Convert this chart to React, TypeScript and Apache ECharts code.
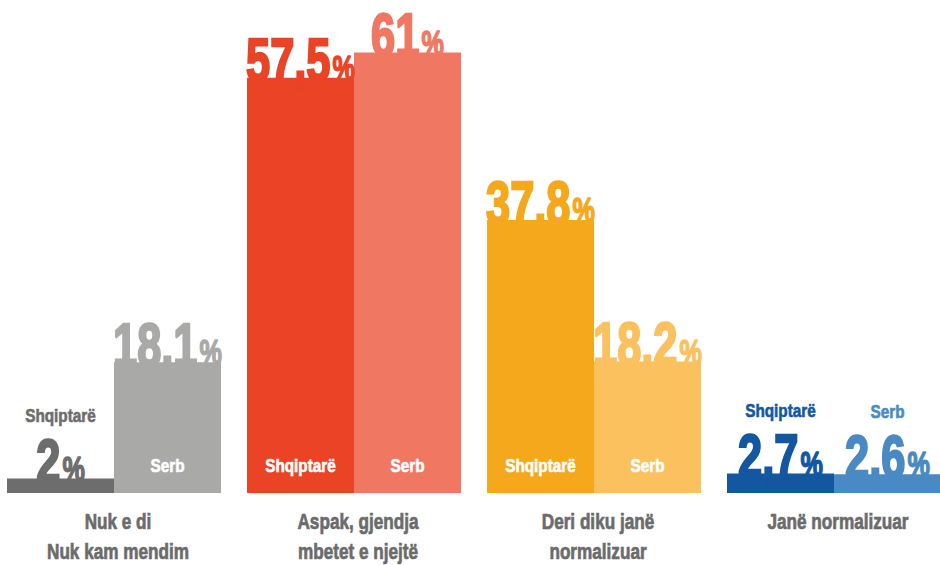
import { useEffect, useRef } from 'react';
import * as echarts from 'echarts';

const categories = ['Nuk e di\nNuk kam mendim', 'Aspak, gjendja\nmbetet e njejtë', 'Deri diku janë\nnormalizuar', 'Janë normalizuar'];
const seriesNames = ['Shqiptarë', 'Serb'];
const albanianValues = [2, 57.5, 37.8, 2.7];
const serbValues = [18.1, 61, 18.2, 2.6];
const albanianColors = ['#6d6d6d', '#ea4325', '#f6a81c', '#1257a0'];
const serbColors = ['#a9a9a8', '#f07862', '#fbc15e', '#4a8ac4'];

const BAR_W = 107;
const FONT = "'Liberation Sans', Arial, sans-serif";

const fmt = (v: number) => String(v).replace('.', ',');

export default function App() {
  const ref = useRef<HTMLDivElement>(null);

  useEffect(() => {
    if (!ref.current) return;
    const chart = echarts.init(ref.current, undefined, { renderer: 'svg' });

    const labelData: number[][] = [];
    albanianValues.forEach((v, i) => labelData.push([i, v, 0]));
    serbValues.forEach((v, i) => labelData.push([i, v, 1]));

    const renderValueLabel = (params: any, api: any) => {
      const ci = api.value(0);
      const v = api.value(1);
      const side = api.value(2);
      const top = api.coord([ci, v]);
      const base = api.coord([ci, 0]);
      const cx = top[0] + (side === 0 ? -BAR_W / 2 : BAR_W / 2);
      const color = side === 0 ? albanianColors[ci] : serbColors[ci];
      const name = seriesNames[side];
      const children: any[] = [
        {
          type: 'text',
          x: cx,
          y: top[1] + 13,
          scaleX: 0.7,
          style: {
            text: `{n|${fmt(v)}}{p|%}`,
            align: 'center',
            verticalAlign: 'bottom',
            fill: color,
            stroke: color,
            lineWidth: 2.5,
            rich: {
              n: { fontSize: 62, lineHeight: 62, fontWeight: 'bold', fontFamily: FONT, fill: color, stroke: color, lineWidth: 2.5, verticalAlign: 'bottom' },
              p: { fontSize: 36, fontWeight: 'bold', fontFamily: FONT, fill: color, stroke: color, lineWidth: 1.5, verticalAlign: 'bottom', padding: [0, 0, 5, 3] },
            },
          },
        },
      ];
      const nameStyle = { align: 'center', verticalAlign: 'middle', fontSize: 18, fontWeight: 'bold', fontFamily: FONT, lineWidth: 0.6 };
      if (v < 10) {
        children.push({
          type: 'text',
          x: cx,
          y: top[1] - 62,
          scaleX: 0.85,
          style: { ...nameStyle, text: name, fill: color, stroke: color },
        });
      } else {
        children.push({
          type: 'text',
          x: cx,
          y: base[1] - 27,
          scaleX: 0.85,
          style: { ...nameStyle, text: name, fill: '#ffffff', stroke: '#ffffff' },
        });
      }
      return { type: 'group', children };
    };

    const renderCategoryLabel = (params: any, api: any) => {
      const ci = api.value(0);
      const p = api.coord([ci, 0]);
      return {
        type: 'text',
        x: p[0] + 4,
        y: p[1] + 13,
        scaleX: 0.78,
        style: {
          text: categories[ci],
          align: 'center',
          verticalAlign: 'top',
          fill: '#6b6b6b',
          stroke: '#6b6b6b',
          lineWidth: 0.7,
          fontSize: 22,
          lineHeight: 30,
          fontWeight: 'bold',
          fontFamily: FONT,
        },
      };
    };

    chart.setOption({
      animation: false,
      grid: { left: 0, right: 0, top: 2, bottom: 72 },
      xAxis: { type: 'category', data: categories, show: false },
      yAxis: { type: 'value', min: 0, max: 68, show: false },
      series: [
        {
          type: 'bar',
          name: seriesNames[0],
          data: albanianValues,
          barWidth: BAR_W,
          barGap: '0%',
          itemStyle: { color: (p: any) => albanianColors[p.dataIndex] },
        },
        {
          type: 'bar',
          name: seriesNames[1],
          data: serbValues,
          barWidth: BAR_W,
          barGap: '0%',
          itemStyle: { color: (p: any) => serbColors[p.dataIndex] },
        },
        {
          type: 'custom',
          name: 'values',
          data: labelData,
          encode: { x: 0, y: 1 },
          renderItem: renderValueLabel,
          clip: false,
          z: 5,
          silent: true,
        },
        {
          type: 'custom',
          name: 'categories',
          data: categories.map((_, i) => [i, 0]),
          encode: { x: 0, y: 1 },
          renderItem: renderCategoryLabel,
          clip: false,
          z: 5,
          silent: true,
        },
      ],
    });

    return () => chart.dispose();
  }, []);

  return (
    <div style={{ position: 'fixed', left: 0, top: 0, width: 940, height: 565, overflow: 'hidden', background: '#fff' }}>
      <div ref={ref} style={{ position: 'absolute', left: -6, top: 0, width: 960, height: 565 }} />
    </div>
  );
}
